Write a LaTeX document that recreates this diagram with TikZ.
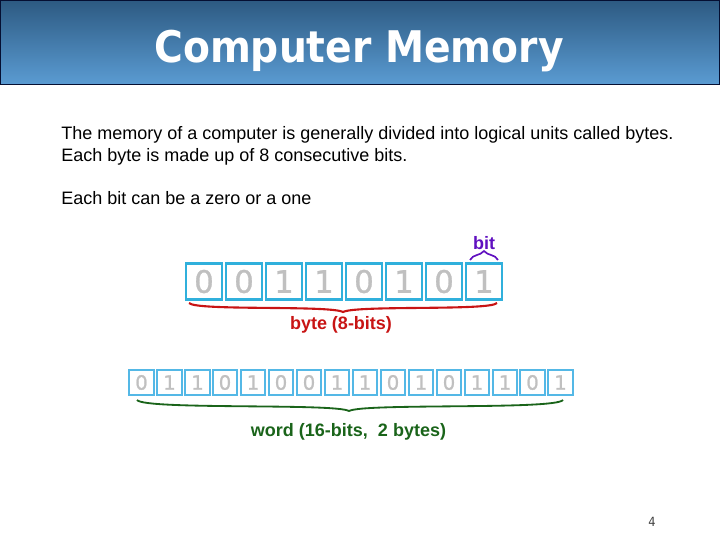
\documentclass[tikz,border=0pt]{standalone}
\usepackage{fontspec}
\setmainfont{Liberation Sans}
\newfontfamily\titlefont[FakeStretch=0.9]{DejaVu Sans}
\newfontfamily\digitfont[FakeBold=1]{DejaVu Sans}
\usetikzlibrary{calc}
\definecolor{headtop}{RGB}{45,90,130}
\definecolor{headbot}{RGB}{90,155,210}
\definecolor{headline}{RGB}{5,15,50}
\definecolor{cellblue}{RGB}{48,176,220}
\definecolor{celllight}{RGB}{84,184,230}
\definecolor{digitgray}{RGB}{192,192,192}
\definecolor{bytered}{RGB}{200,20,20}
\definecolor{bitpurple}{RGB}{96,16,192}
\definecolor{wordgreen}{RGB}{26,100,26}
\tikzset{
	bodytext/.style={anchor=base west, inner sep=0pt, font=\fontsize{12.8pt}{14pt}\selectfont},
	bytecell/.style={draw=cellblue, line width=1.8pt, fill=white, minimum width=25.5pt, minimum height=25.5pt, inner sep=0pt, text=digitgray, font=\digitfont\fontsize{22pt}{23pt}\selectfont},
	wordcell/.style={draw=celllight, line width=1.3pt, fill=white, minimum width=17.4pt, minimum height=17.4pt, inner sep=0pt, text=digitgray, font=\digitfont\fontsize{14pt}{15pt}\selectfont},
	bracelabel/.style={inner sep=0pt, font=\bfseries\fontsize{12.8pt}{14pt}\selectfont},
}
\begin{document}
\begin{tikzpicture}[x=0.025cm, y=-0.025cm]
		%%%%% START %%%%%
		\useasboundingbox (0, 0) rectangle (720, 540);

		\draw[draw=headline, line width=0.7pt, top color=headtop, bottom color=headbot] (0.5, 0.5) rectangle (719.5, 84);
		\node[text=white, inner sep=0pt, anchor=base] (title) at (359, 62) {\titlefont\bfseries\fontsize{31pt}{32pt}\selectfont Computer Memory};

		\node[bodytext] (line1) at (61, 139) {The memory of a computer is generally divided into logical units called bytes.};
		\node[bodytext] (line2) at (61, 161) {Each byte is made up of 8 consecutive bits.};
		\node[bodytext] (line3) at (61, 204) {Each bit can be a zero or a one};

		%%%%% BYTE %%%%%
		\node[bytecell] (b1) at (204, 281.5) {0};
		\node[bytecell] (b2) at (244, 281.5) {0};
		\node[bytecell] (b3) at (284, 281.5) {1};
		\node[bytecell] (b4) at (324, 281.5) {1};
		\node[bytecell] (b5) at (364, 281.5) {0};
		\node[bytecell] (b6) at (404, 281.5) {1};
		\node[bytecell] (b7) at (444, 281.5) {0};
		\node[bytecell] (b8) at (484, 281.5) {1};

		\draw[bitpurple, line width=1.2pt] (470, 260) .. controls (473, 254) and (480, 256) .. (484, 251) .. controls (488, 256) and (495, 254) .. (498, 260);
		\node[bracelabel, text=bitpurple] (bitlabel) at (484, 243.5) {bit};

		\draw[bytered, line width=1.5pt] (189, 303) .. controls (196, 311) and (330, 305) .. (343, 312) .. controls (356, 305) and (490, 311) .. (497, 303);
		\node[bracelabel, text=bytered] (bytelabel) at (341, 325) {byte (8-bits)};

		%%%%% WORD %%%%%
		\node[wordcell] (w1) at (141.5, 382.5) {0};
		\node[wordcell] (w2) at (169.5, 382.5) {1};
		\node[wordcell] (w3) at (197.5, 382.5) {1};
		\node[wordcell] (w4) at (225, 382.5) {0};
		\node[wordcell] (w5) at (253, 382.5) {1};
		\node[wordcell] (w6) at (281, 382.5) {0};
		\node[wordcell] (w7) at (309, 382.5) {0};
		\node[wordcell] (w8) at (337, 382.5) {1};
		\node[wordcell] (w9) at (365, 382.5) {1};
		\node[wordcell] (w10) at (393, 382.5) {0};
		\node[wordcell] (w11) at (421, 382.5) {1};
		\node[wordcell] (w12) at (449, 382.5) {0};
		\node[wordcell] (w13) at (477, 382.5) {1};
		\node[wordcell] (w14) at (505, 382.5) {1};
		\node[wordcell] (w15) at (532.5, 382.5) {0};
		\node[wordcell] (w16) at (560.5, 382.5) {1};

		\draw[wordgreen, line width=1.3pt] (137, 400) .. controls (145, 410) and (335, 403) .. (349, 411) .. controls (363, 403) and (555, 410) .. (563, 400);
		\node[bracelabel, text=wordgreen] (wordlabel) at (348.5, 431.5) {word (16-bits,\ \ 2 bytes)};

		\node[inner sep=0pt, text=black!75] (pagenum) at (652, 522) {\titlefont\fontsize{9pt}{10pt}\selectfont 4};
		%%%%% END %%%%%
	\end{tikzpicture}
\end{document}
